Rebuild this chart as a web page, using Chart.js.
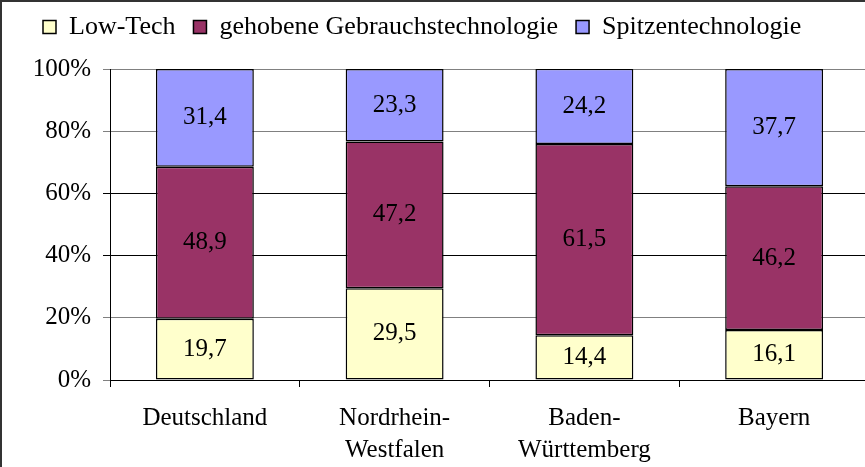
<!DOCTYPE html>
<html>
<head>
<meta charset="utf-8">
<script src="https://cdn.jsdelivr.net/npm/chart.js@4.4.0/dist/chart.umd.min.js"></script>
<style>
  html, body { margin: 0; padding: 0; background: #fff; overflow: hidden; }
  #wrap { width: 863px; height: 465px; overflow: hidden; border-left: 2px solid #333; border-top: 2px solid #333; }
  canvas { display: block; }
</style>
</head>
<body>
<div id="wrap"><canvas id="chart1" width="880" height="465"></canvas></div>
<script>
const regions = ['Deutschland', ['Nordrhein-', 'Westfalen'], ['Baden-', 'Württemberg'], 'Bayern'];
const lowTech = [19.7, 29.5, 14.4, 16.1];
const gehobene = [48.9, 47.2, 61.5, 46.2];
const spitzen = [31.4, 23.3, 24.2, 37.7];
const yTicks = [0, 20, 40, 60, 80, 100];

const serif = "'Liberation Serif'";

// Werte mittig in die Balken schreiben
var barValues = {
    id: 'barValues',
    afterDatasetsDraw: function(chart) {
        var ctx = chart.ctx;
        ctx.save();
        ctx.font = '25px ' + serif;
        ctx.fillStyle = '#000';
        ctx.textAlign = 'center';
        ctx.textBaseline = 'middle';
        chart.data.datasets.forEach(function(ds, i) {
            chart.getDatasetMeta(i).data.forEach(function(bar, j) {
                var y = (bar.y + bar.base) / 2;
                ctx.fillText(ds.data[j].toFixed(1).replace('.', ','), bar.x, y);
            });
        });
        ctx.restore();
    }
};

// Legende: feste Hoehe, etwas nach oben geruckt
var legendBox = {
    id: 'legendBox',
    afterInit: function(chart) {
        var fit = chart.legend.fit;
        chart.legend.fit = function() {
            fit.call(this);
            this.height = 67;
        };
    },
    afterLayout: function(chart) {
        chart.legend.top -= 6;
        chart.legend.bottom -= 6;
    }
};

var ctx = document.getElementById('chart1').getContext('2d');
new Chart(ctx, {
    type: 'bar',
    data: {
        labels: regions,
        datasets: [{
            label: 'Low-Tech',
            data: lowTech,
            backgroundColor: '#FFFFCC',
            borderColor: '#000',
            borderWidth: 1.5,
            borderSkipped: false
        }, {
            label: 'gehobene Gebrauchstechnologie',
            data: gehobene,
            backgroundColor: '#993366',
            borderColor: '#000',
            borderWidth: 1.5,
            borderSkipped: false
        }, {
            label: 'Spitzentechnologie',
            data: spitzen,
            backgroundColor: '#9999FF',
            borderColor: '#000',
            borderWidth: 1.5,
            borderSkipped: false
        }]
    },
    plugins: [barValues, legendBox],
    options: {
        responsive: false,
        animation: false,
        devicePixelRatio: 1,
        layout: { padding: { left: 23, right: 13, top: 0, bottom: 0 } },
        datasets: { bar: { categoryPercentage: 1, barPercentage: 0.516 } },
        plugins: {
            tooltip: { enabled: false },
            legend: {
                position: 'top',
                align: 'start',
                labels: {
                    color: '#000',
                    font: { family: serif, size: 26 },
                    boxWidth: 13,
                    boxHeight: 13,
                    padding: 18
                }
            }
        },
        scales: {
            x: {
                stacked: true,
                afterFit: function(scale) { scale.height = 87; },
                grid: { offset: true, drawOnChartArea: false, color: '#000', tickLength: 7 },
                border: { color: '#000', width: 1 },
                ticks: {
                    color: '#000',
                    padding: 15,
                    maxRotation: 0,
                    font: { family: serif, size: 25, lineHeight: 1.28 }
                }
            },
            y: {
                stacked: true,
                min: 0,
                max: 100,
                afterFit: function(scale) { scale.width = 85; },
                afterBuildTicks: function(scale) {
                    scale.ticks = yTicks.map(function(v) { return { value: v }; });
                },
                grid: {
                    color: function(c) {
                        return (c.tick && (c.tick.value === 40 || c.tick.value === 60)) ? '#000' : '#808080';
                    },
                    tickLength: 7
                },
                border: { color: '#000', width: 1 },
                ticks: {
                    color: '#000',
                    padding: 12,
                    font: { family: serif, size: 25 },
                    callback: function(v) { return v + '%'; }
                }
            }
        }
    }
});
</script>
</body>
</html>
